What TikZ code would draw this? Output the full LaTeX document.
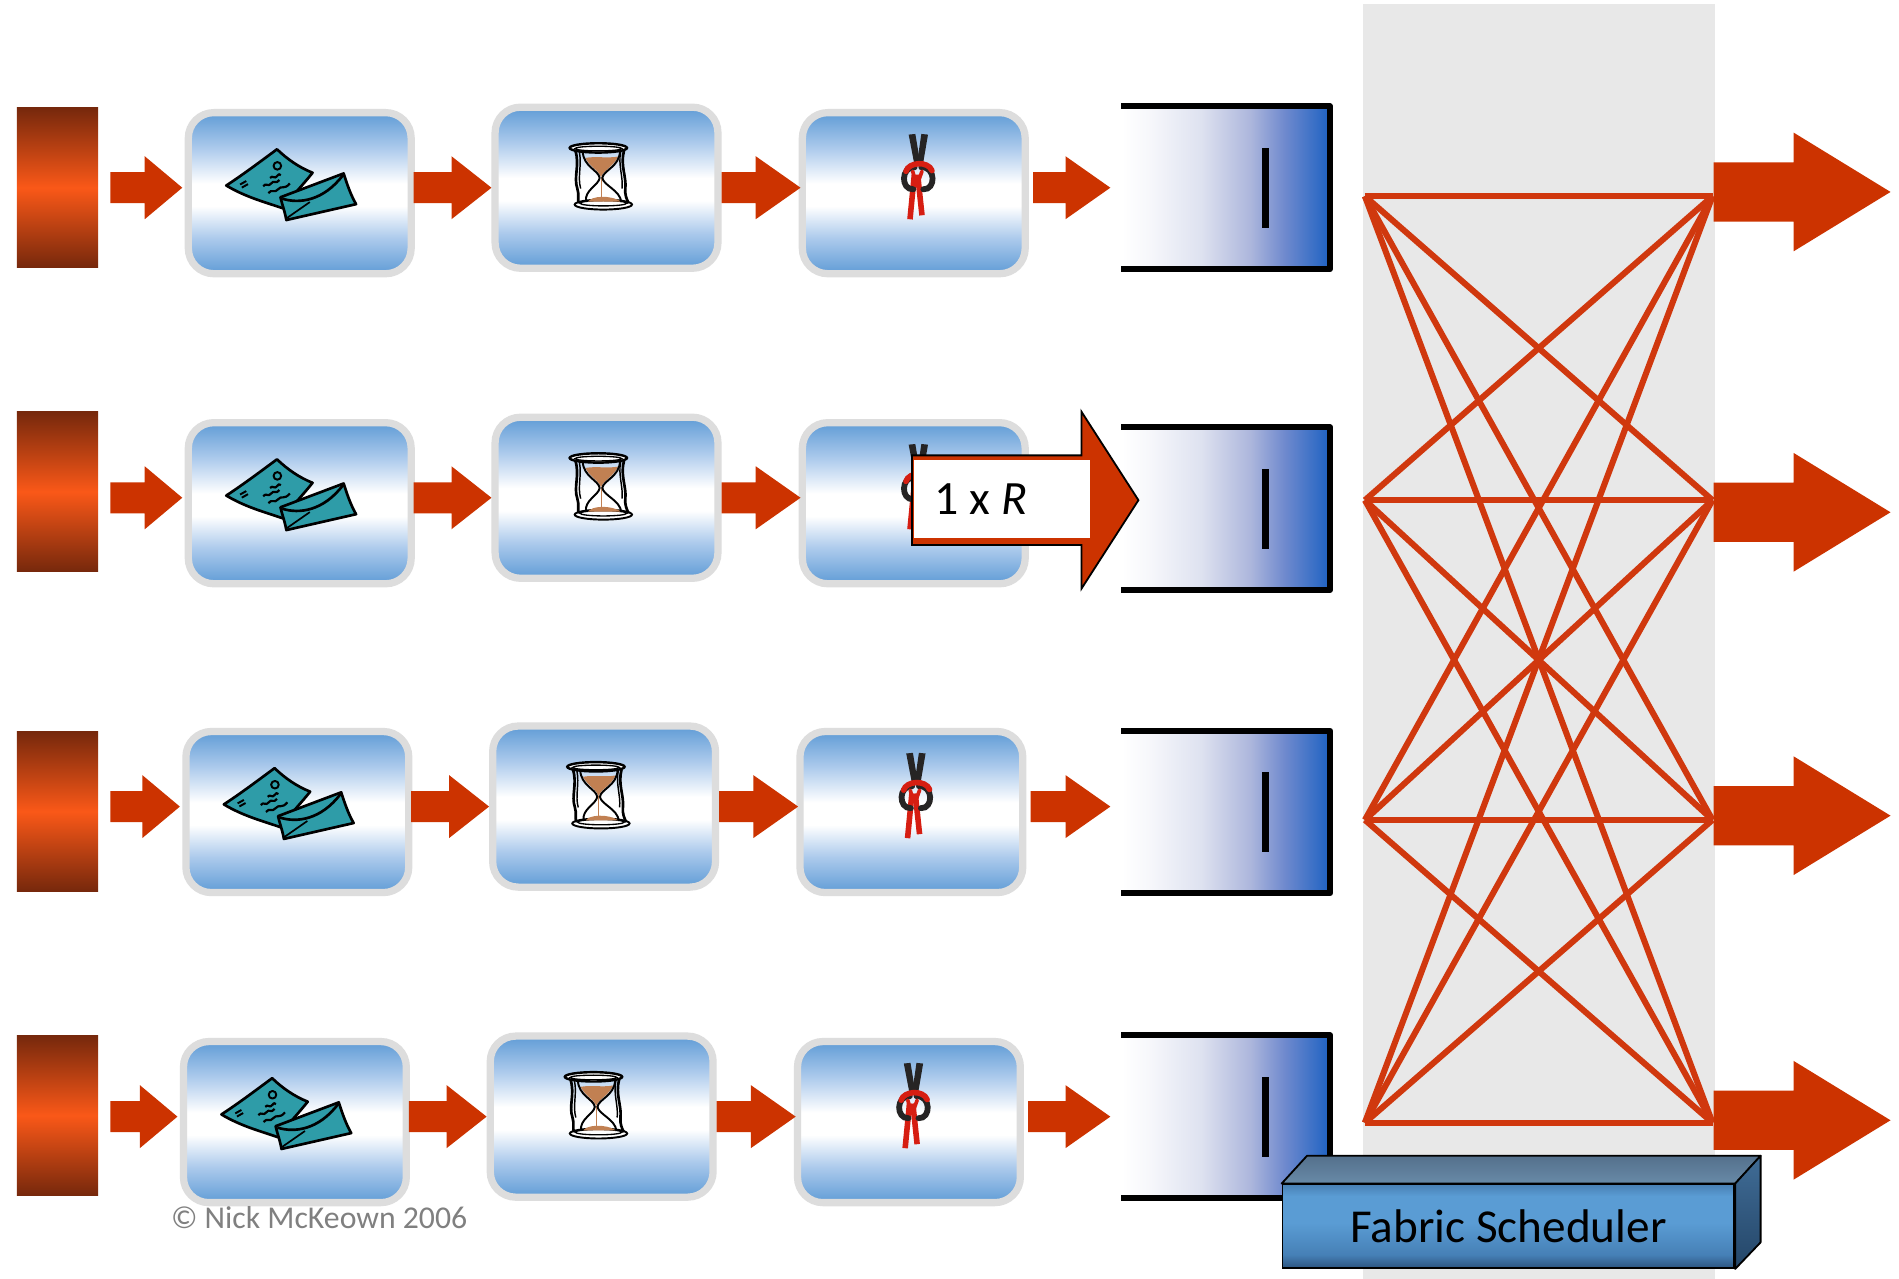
\documentclass[tikz,border=0pt]{standalone}
\usepackage{fontspec}
\setmainfont{Carlito}
\usetikzlibrary{calc}

\definecolor{pureWhite}{RGB}{255,255,255}
\definecolor{arrowred}{RGB}{204,51,0}
\definecolor{linkred}{RGB}{208,56,14}
\definecolor{frameGrey}{RGB}{221,221,221}
\definecolor{fabricGrey}{RGB}{232,232,232}
\definecolor{cellBlue}{RGB}{96,156,214}
\definecolor{cellMid}{RGB}{172,202,236}
\definecolor{portDark}{RGB}{118,40,12}
\definecolor{portMid}{RGB}{250,88,24}
\definecolor{qA}{RGB}{246,247,251}
\definecolor{qB}{RGB}{222,226,240}
\definecolor{qC}{RGB}{172,182,220}
\definecolor{qD}{RGB}{112,138,206}
\definecolor{qBlue}{RGB}{30,98,194}
\definecolor{envTeal}{RGB}{46,156,168}
\definecolor{sand}{RGB}{193,128,82}
\definecolor{ropeRed}{RGB}{214,30,18}
\definecolor{ropeBlack}{RGB}{38,36,36}
\definecolor{sA}{RGB}{44,84,128}
\definecolor{sB}{RGB}{70,128,182}
\definecolor{sC}{RGB}{90,156,212}
\definecolor{sD}{RGB}{72,128,180}
\definecolor{sTopA}{RGB}{84,112,140}
\definecolor{sTopB}{RGB}{104,138,168}
\definecolor{sSideA}{RGB}{64,108,150}
\definecolor{sSideB}{RGB}{36,70,104}
\definecolor{copyGrey}{RGB}{128,128,128}

% blue-white-blue fill of the processing cells (0bp = bottom)
\pgfdeclareverticalshading{cellshade}{100bp}{color(0bp)=(cellBlue); color(25bp)=(cellBlue);
  color(36bp)=(cellMid); color(46bp)=(pureWhite); color(53bp)=(pureWhite); color(64bp)=(cellMid);
  color(75bp)=(cellBlue); color(100bp)=(cellBlue)}
% white-to-blue fill of the virtual output queues
\pgfdeclarehorizontalshading{queueshade}{100bp}{color(0bp)=(pureWhite); color(25bp)=(pureWhite);
  color(32bp)=(qA); color(44bp)=(qB); color(56bp)=(qC); color(64bp)=(qD); color(75bp)=(qBlue);
  color(100bp)=(qBlue)}
% front face of the scheduler block
\pgfdeclareverticalshading{schedfront}{100bp}{color(0bp)=(sA); color(25bp)=(sA); color(33bp)=(sB);
  color(52bp)=(sC); color(68bp)=(sC); color(75bp)=(sD); color(100bp)=(sD)}

\tikzset{
  cell/.style={draw=frameGrey, line width=6pt, rounded corners=21pt, shade, shading=cellshade,
    minimum width=184pt, minimum height=133pt, inner sep=0pt},
  port/.style={top color=portDark, bottom color=portDark, middle color=portMid,
    minimum width=67pt, minimum height=132pt, inner sep=0pt},
  voq/.style={shade, shading=queueshade, minimum width=172pt, minimum height=134pt, inner sep=0pt},
  link/.style={draw=linkred, line width=5pt},
}

% block arrow: tail, tip, half shaft height, half head height, head length
\newcommand\pipearrow[5]{%
  \fill[arrowred] let \p1=#1, \p2=#2 in
    (\x1,\y2+#3pt) -- (\x2-#5pt,\y2+#3pt) -- (\x2-#5pt,\y2+#4pt) -- (\x2,\y2)
    -- (\x2-#5pt,\y2-#4pt) -- (\x2-#5pt,\y2-#3pt) -- (\x1,\y2-#3pt) -- cycle;}

% address lookup: postcard and envelope
\newcommand\mailicon[1]{%
\begin{scope}[shift={($(#1.center)+(-71.5,-44.5)$)}, scale=0.285, line width=2.2pt, line join=round]
  \filldraw[fill=envTeal, draw=black] (38,134) .. controls (90,100) and (140,62) .. (185,29)
    .. controls (215,58) and (250,82) .. (288,97) .. controls (262,130) and (228,165) .. (202,200)
    .. controls (150,182) and (95,168) .. (38,134) -- cycle;
  \draw[line width=1.6pt] (186,77) circle (11);
  \draw[line width=1.6pt] (78,131) -- (96,121) (83,140) -- (101,130);
  \draw[line width=1.8pt] (165,112) .. controls (172,102) and (178,118) .. (186,106) .. controls (190,100) .. (196,104);
  \draw[line width=1.8pt] (145,136) .. controls (153,124) and (160,140) .. (168,128) .. controls (176,116) and (182,132) .. (192,118);
  \draw[line width=1.8pt] (160,156) .. controls (170,142) and (178,158) .. (188,145) .. controls (198,132) and (206,148) .. (222,128);
  \filldraw[fill=envTeal, draw=black] (195,168) -- (378,99) .. controls (388,130) and (398,160) .. (414,188)
    -- (212,234) .. controls (208,210) and (200,190) .. (195,168) -- cycle;
  \draw (200,172) .. controls (250,188) and (320,178) .. (376,104);
  \draw[line width=1.4pt] (214,228) -- (280,182);
\end{scope}}

% buffering delay: hourglass
\newcommand\glassicon[1]{%
\begin{scope}[shift={($(#1.center)+(-38.41,-43.33)$)}, scale=0.27524, line width=1.6pt]
  \filldraw[fill=pureWhite] (130,208) ellipse (86 and 15);
  \draw[line width=1.1pt] (130,204) ellipse (70 and 8);
  \draw[line width=2.2pt] (46,46) .. controls (60,90) and (40,125) .. (52,160) .. controls (58,178) and (52,192) .. (56,204);
  \draw[line width=1.2pt] (58,50) .. controls (66,90) and (52,125) .. (62,160);
  \draw[line width=2.2pt] (192,46) .. controls (180,90) and (200,125) .. (196,160) .. controls (194,178) and (200,192) .. (206,204);
  \draw[line width=1.2pt] (182,50) .. controls (174,90) and (190,125) .. (186,160);
  \fill[sand] (76,68) .. controls (110,62) and (140,70) .. (174,64) .. controls (160,95) and (130,105) .. (123,126)
    .. controls (116,105) and (90,95) .. (76,68) -- cycle;
  \fill[sand] (84,199) .. controls (95,182) and (150,178) .. (184,199) -- cycle;
  \draw[sand, line width=0.6pt] (123,126) -- (123,190);
  \draw (68,48) .. controls (70,95) and (116,105) .. (119,128) .. controls (116,150) and (72,165) .. (78,200);
  \draw (180,48) .. controls (178,95) and (130,105) .. (127,128) .. controls (130,150) and (180,165) .. (184,200);
  \filldraw[fill=pureWhite, line width=2pt] (115,38) ellipse (86 and 14);
  \draw[line width=1.1pt] (115,40) ellipse (70 and 7);
\end{scope}}

% output link: knotted rope
\newcommand\knoticon[1]{%
\begin{scope}[shift={($(#1.center)+(-27.9,-56.6)$)}, scale=0.27524, line cap=round]
  \fill[ropeBlack] (86,30) -- (106,28) -- (122,124) -- (104,124) -- cycle;
  \fill[ropeBlack] (124,28) -- (144,30) -- (128,124) -- (110,124) -- cycle;
  \draw[ropeRed, line width=4.6pt, line cap=butt] (103,150) -- (90,284);
  \draw[ropeRed, line width=4.6pt, line cap=butt] (113,150) -- (126,272);
  \draw[ropeBlack, line width=4.8pt] (104,128) .. controls (62,126) and (62,196) .. (100,194);
  \draw[ropeBlack, line width=4.8pt] (124,128) .. controls (168,126) and (168,196) .. (130,194);
  \draw[ropeRed, line width=4.6pt] (78,140) .. controls (86,112) and (144,108) .. (156,138);
  \draw[ropeRed, line width=3pt] (98,140) -- (106,168) (126,140) -- (116,168);
\end{scope}}

\begin{document}
\begin{tikzpicture}[x=1pt, y=-1pt]
  \useasboundingbox (0,0) rectangle (1568,1056);
  \fill[pureWhite] (0,0) rectangle (1568,1056);

  % switch fabric backdrop
  \fill[fabricGrey] (1125,3) rectangle (1416,1056);

  % four input lines: port, lookup, buffer, link, queue
  \foreach \rw/\dx/\ya/\yb/\yq/\yx/\yo in
      {1/0/155/155/155/162/158.5, 2/0/411/406/420/413/423,
       3/-2/666/670/670.5/677/673.5, 4/-4/922/921/922/927/925} {
    \coordinate (row\rw) at (0,\ya);
    \node[port] (bar\rw) at (47.5,\yb) {};
    \node[cell] (cellA\rw) at ({247.5+\dx},{\ya+4.5}) {};
    \node[cell] (cellB\rw) at ({500.8+\dx},\ya) {};
    \node[cell] (cellC\rw) at ({754.5+\dx},{\ya+4.5}) {};
    \mailicon{cellA\rw}
    \glassicon{cellB\rw}
    \knoticon{cellC\rw}
    \pipearrow{($(bar\rw.east |- row\rw)+(10,0)$)}{($(cellA\rw.west |- row\rw)+(-2,0)$)}{12.8}{26}{31}
    \pipearrow{($(cellA\rw.east |- row\rw)+(-1,0)$)}{(cellB\rw.west |- row\rw)}{12.8}{26}{33}
    \pipearrow{(cellB\rw.east |- row\rw)}{($(cellC\rw.west |- row\rw)+(1.5,0)$)}{12.8}{26}{37}
    \node[voq] (q\rw) at (1012,\yq) {};
    \pipearrow{($(cellC\rw.east |- row\rw)+(3.5,0)$)}{($(q\rw.west |- row\rw)+(-9,0)$)}{12.8}{26}{37}
    \draw[line width=5pt, line join=round] (q\rw.north west) -- (q\rw.north east) -- (q\rw.south east) -- (q\rw.south west);
    \fill ($(q\rw.center)+(30,-33)$) rectangle ($(q\rw.center)+(36,33)$);
    \coordinate (L\rw) at (1127,\yx);
    \coordinate (R\rw) at (1414,\yx);
    \coordinate (out\rw) at (1561,\yo);
  }

  % crossbar: every input connects to every output
  \foreach \i in {1,...,4} {
    \foreach \j in {1,...,4} {
      \draw[link] (L\i) -- (R\j);
    }
  }
  \foreach \rw in {1,...,4} {
    \pipearrow{($(R\rw |- out\rw)+(1,0)$)}{(out\rw)}{24.5}{49}{80}
  }

  % line-rate label arrow
  \coordinate (rateTip) at (940,413);
  \filldraw[fill=arrowred, draw=black, line width=1.5pt, line join=miter]
    let \p1=($(cellC2.center)+(-1.5,0)$), \p2=(rateTip) in
    (\x1,\y2+37pt) -- (\x2-47pt,\y2+37pt) -- (\x2-47pt,\y2+73pt) -- (\x2,\y2)
    -- (\x2-47pt,\y2-73pt) -- (\x2-47pt,\y2-37pt) -- (\x1,\y2-37pt) -- cycle;
  \node[fill=pureWhite, minimum width=145.5pt, minimum height=64pt, anchor=west, inner sep=0pt]
    (rate) at (754.5,412) {};
  \node[anchor=base west, inner sep=0pt, font=\fontsize{39.5}{46}\selectfont]
    (rateLabel) at ($(rate.west)+(17,13)$) {1 x \textit{R}};

  % fabric scheduler block
  \node[shade, shading=schedfront, draw=black, line width=1.5pt, minimum width=373pt,
    minimum height=69pt, inner sep=0pt, font=\fontsize{39}{46}\selectfont]
    (sched) at (1245.5,1012.5) {Fabric Scheduler};
  \filldraw[draw=black, line width=1.5pt, line join=round, top color=sTopA, bottom color=sTopB]
    (sched.north west) -- ++(21,-23) -- ($(sched.north east)+(21,-23)$) -- (sched.north east) -- cycle;
  \filldraw[draw=black, line width=1.5pt, line join=round, top color=sSideA, bottom color=sSideB]
    (sched.north east) -- ++(21,-23) -- ($(sched.south east)+(21,-22)$) -- (sched.south east) -- cycle;

  % credit line
  \node[anchor=base west, inner sep=0pt, text=copyGrey, font=\fontsize{26.2}{30}\selectfont]
    (credit) at (141,1014) {© Nick McKeown 2006};
\end{tikzpicture}
\end{document}
